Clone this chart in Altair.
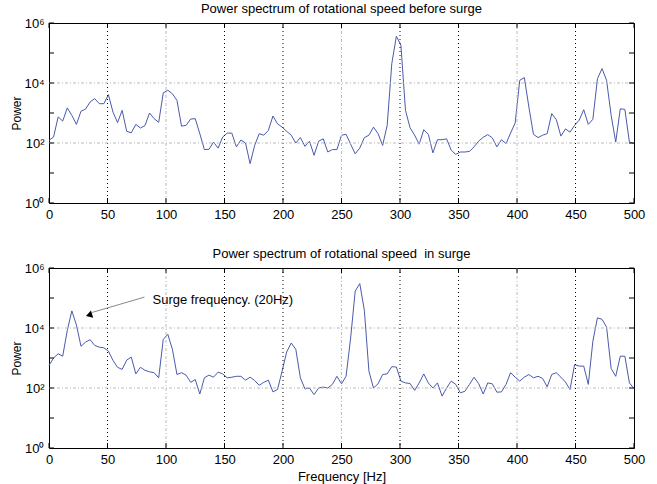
import altair as alt
import pandas as pd

# ---- data ----
N_BINS = 128
F_MAX = 500
freq = [i * F_MAX / N_BINS for i in range(N_BINS + 1)]

# log10(power), before surge
log_before = [2.09, 2.2, 2.87, 2.73, 3.17, 2.92, 2.62, 3.06, 3.13, 3.37,
              3.48, 3.31, 3.31, 3.61, 3.03, 2.68, 3.09, 2.39, 2.34, 2.62,
              2.5, 2.58, 3.0, 2.81, 2.69, 3.67, 3.76, 3.64, 3.42, 2.56,
              2.59, 2.8, 2.81, 2.31, 1.78, 1.79, 2.03, 1.83, 2.2, 2.33,
              2.33, 1.87, 2.1, 2.0, 1.31, 1.92, 2.31, 2.26, 2.42, 2.9,
              2.64, 2.53, 2.39, 2.26, 2.0, 2.18, 1.89, 2.06, 1.59, 2.06,
              2.14, 1.7, 1.78, 1.78, 2.26, 2.29, 1.96, 1.64, 1.83, 2.18,
              2.26, 2.53, 2.31, 1.92, 2.59, 4.64, 5.56, 5.26, 3.09, 2.51,
              2.26, 1.96, 2.44, 2.29, 1.67, 2.11, 2.11, 2.14, 1.76, 1.62,
              1.7, 1.7, 1.72, 1.87, 2.06, 2.19, 2.28, 2.17, 1.87, 2.11,
              1.98, 2.33, 2.67, 4.09, 4.18, 3.2, 2.29, 2.18, 2.26, 2.31,
              2.98, 2.78, 2.23, 2.47, 2.36, 2.59, 2.76, 3.11, 2.62, 2.79,
              4.14, 4.48, 4.09, 2.92, 2.03, 3.14, 3.12, 2.03, 1.98]

# log10(power), in surge
log_surge = [2.75, 3.0, 3.14, 3.06, 3.92, 4.57, 4.1, 3.39, 3.53, 3.61,
             3.42, 3.36, 3.34, 3.23, 2.92, 2.69, 2.62, 2.93, 3.03, 2.47,
             2.69, 2.59, 2.54, 2.51, 2.34, 3.62, 3.79, 3.29, 2.45, 2.51,
             2.43, 2.19, 2.28, 1.8, 2.34, 2.43, 2.36, 2.53, 2.47, 2.34,
             2.36, 2.39, 2.39, 2.26, 2.36, 2.25, 2.09, 2.19, 2.26, 1.87,
             1.95, 2.56, 3.2, 3.5, 3.29, 2.34, 1.97, 2.0, 1.78, 2.0,
             2.03, 2.0, 2.12, 2.39, 2.14, 2.39, 3.67, 5.23, 5.48, 4.59,
             2.56, 2.0, 2.14, 2.45, 2.47, 2.71, 2.7, 2.23, 2.17, 2.15,
             1.92, 2.17, 2.47, 2.17, 2.0, 2.17, 1.73, 2.0, 2.23, 2.12,
             1.84, 1.89, 2.12, 2.36, 2.15, 1.8, 2.17, 2.14, 1.86, 1.87,
             2.12, 2.51, 2.36, 2.23, 2.36, 2.45, 2.34, 2.39, 2.32, 2.04,
             2.45, 2.51, 2.36, 2.2, 1.95, 2.78, 2.73, 2.73, 2.12, 3.56,
             4.34, 4.29, 4.03, 2.65, 2.39, 3.06, 3.06, 2.17, 1.98]

x_ticks = [0, 50, 100, 150, 200, 250, 300, 350, 400, 450, 500]
y_labels = [1, 100, 10000, 1000000]
y_decades = [1, 10, 100, 1000, 10000, 100000, 1000000]
grid_black = [50, 150, 200, 300, 350, 450]
grid_gray = [100, 250, 400]
grid_h = [100, 10000]

titles = ["Power spectrum of rotational speed before surge",
          "Power spectrum of rotational speed\u00a0 in surge"]

annot_text = "Surge frequency. (20Hz)"
annot_text_pos = (88.5, 10 ** 4.94)
arrow_f = [81.6, 37.0]
arrow_p = [10 ** 5.03, 10 ** 4.52]
arrow_head = (34.2, 10 ** 4.43)

# ---- style ----
W, H = 585, 180
FONT = "Liberation Sans"
LINE = "#4a5bab"
TICK = 5

xs = alt.Scale(domain=[0, 500], nice=False, zero=False)
ys = alt.Scale(type="log", domain=[1, 1000000], nice=False)

sup_expr = ("'10' + (datum.value > 500000 ? '\u2076' : datum.value > 5000 ? '\u2074' : "
            "datum.value > 50 ? '\u00b2' : '\u2070')")


def panel(logs, title, show_xtitle, annotate):
    xaxis = alt.Axis(values=x_ticks, ticks=False, domain=False, grid=False,
                     labelFontSize=13, labelPadding=5, labelFlush=False,
                     title="Frequency [Hz]" if show_xtitle else "",
                     titleFontSize=13, titleFontWeight="normal", titlePadding=4)
    yaxis = alt.Axis(values=y_labels, title="Power", ticks=False, domain=False, grid=False,
                     labelExpr=sup_expr, labelFontSize=13, labelPadding=5,
                     titleFontSize=12, titleFontWeight="normal", titlePadding=0)

    def X():
        return alt.X("f:Q", scale=xs, axis=xaxis)

    def Y():
        return alt.Y("p:Q", scale=ys, axis=yaxis)

    df = pd.DataFrame({"f": freq, "p": [10 ** v for v in logs]})
    line = alt.Chart(df).mark_line(color=LINE, strokeWidth=1).encode(x=X(), y=Y())
    gb = alt.Chart(pd.DataFrame({"f": grid_black})).mark_rule(
        color="black", strokeDash=[1, 3], strokeWidth=1).encode(
        x=X(), y=alt.value(0), y2=alt.value(H))
    gg = alt.Chart(pd.DataFrame({"f": grid_gray})).mark_rule(
        color="#bbbbbb", strokeDash=[3, 2, 1, 2], strokeWidth=1).encode(
        x=X(), y=alt.value(0), y2=alt.value(H))
    gh = alt.Chart(pd.DataFrame({"p": grid_h})).mark_rule(
        color="#bbbbbb", strokeDash=[3, 2, 1, 2], strokeWidth=1).encode(
        y=Y(), x=alt.value(0), x2=alt.value(W))
    dec = pd.DataFrame({"p": y_decades})
    tl = alt.Chart(dec).mark_rule(color="black", strokeWidth=1).encode(
        y=Y(), x=alt.value(0), x2=alt.value(TICK))
    tr = alt.Chart(dec).mark_rule(color="black", strokeWidth=1).encode(
        y=Y(), x=alt.value(W - TICK), x2=alt.value(W))
    xt = pd.DataFrame({"f": x_ticks})
    tb = alt.Chart(xt).mark_rule(color="black", strokeWidth=1).encode(
        x=X(), y=alt.value(H - TICK), y2=alt.value(H))
    tt = alt.Chart(xt).mark_rule(color="black", strokeWidth=1).encode(
        x=X(), y=alt.value(0), y2=alt.value(TICK))
    layers = [line, gb, gg, gh, tl, tr, tb, tt]
    if annotate:
        txt = alt.Chart(pd.DataFrame({"f": [annot_text_pos[0]], "p": [annot_text_pos[1]],
                                      "t": [annot_text]})).mark_text(
            align="left", baseline="middle", fontSize=13, font=FONT, color="black").encode(
            x=X(), y=Y(), text="t:N")
        arr = alt.Chart(pd.DataFrame({"f": arrow_f, "p": arrow_p})).mark_line(
            color="#888888", strokeWidth=1).encode(x=X(), y=Y())
        head = alt.Chart(pd.DataFrame({"f": [arrow_head[0]], "p": [arrow_head[1]]})).mark_point(
            shape="triangle-right", filled=True, color="black", opacity=1, size=55, angle=163).encode(
            x=X(), y=Y())
        layers += [arr, head, txt]
    return alt.layer(*layers).properties(
        width=W, height=H,
        title=alt.Title(title, fontSize=13, fontWeight="normal", font=FONT,
                        anchor="middle", frame="group", offset=1, color="black"))


chart = alt.vconcat(
    panel(log_before, titles[0], False, False),
    panel(log_surge, titles[1], True, True),
    spacing=25,
).properties(
    padding={"left": 10, "top": 2, "right": 5, "bottom": 0},
    background="white",
).configure_view(
    stroke="black", strokeWidth=1
).configure_axis(
    labelFont=FONT, titleFont=FONT, labelColor="black", titleColor="black"
)

chart.save("out.html", embed_options={"renderer": "svg", "actions": False})
